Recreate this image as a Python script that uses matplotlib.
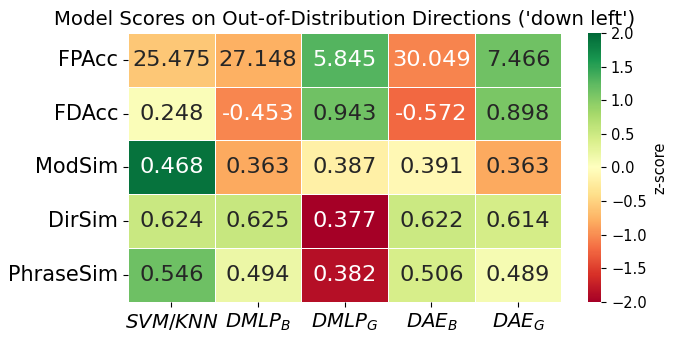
import matplotlib
matplotlib.use("Agg")
import matplotlib.pyplot as plt
import numpy as np
import seaborn as sns

# metrics (rows) x models (columns), as printed in the cells
metrics = ["FPAcc", "FDAcc", "ModSim", "DirSim", "PhraseSim"]
models = ["$SVM/KNN$", "$DMLP_B$", "$DMLP_G$", "$DAE_B$", "$DAE_G$"]

fp_acc = [25.475, 27.148, 5.845, 30.049, 7.466]
fd_acc = [0.248, -0.453, 0.943, -0.572, 0.898]
mod_sim = [0.468, 0.363, 0.387, 0.391, 0.363]
dir_sim = [0.624, 0.625, 0.377, 0.622, 0.614]
phrase_sim = [0.546, 0.494, 0.382, 0.506, 0.489]

# lower FPAcc is better, so its z-score is flipped
lower_is_better = [True, False, False, False, False]

values = np.array([fp_acc, fd_acc, mod_sim, dir_sim, phrase_sim])

# row-wise z-scores used for the colours
z = (values - values.mean(axis=1, keepdims=True)) / values.std(axis=1, keepdims=True)
for i, flip in enumerate(lower_is_better):
    if flip:
        z[i] = -z[i]

labels = np.array([[f"{v:.3f}" for v in row] for row in values])

fig = plt.figure(figsize=(6.74, 3.43), dpi=100)
ax = fig.add_axes([0.19, 0.12, 0.643, 0.784])
cax = fig.add_axes([0.872, 0.12, 0.02, 0.784])

sns.heatmap(
    z,
    ax=ax,
    cbar_ax=cax,
    cmap="RdYlGn",
    vmin=-2,
    vmax=2,
    annot=labels,
    fmt="",
    annot_kws={"fontsize": 16.2},
    linewidths=0.5,
    linecolor="white",
    xticklabels=models,
    yticklabels=metrics,
    cbar_kws={"label": "z-score"},
)
ax.set_title("Model Scores on Out-of-Distribution Directions ('down left')", fontsize=14.2)
ax.tick_params(axis="x", labelsize=14.2, rotation=0)
ax.tick_params(axis="y", labelsize=15, rotation=0)
cax.tick_params(labelsize=10.5)
cax.yaxis.label.set_size(10.5)

fig.savefig("out.png", dpi=100)
